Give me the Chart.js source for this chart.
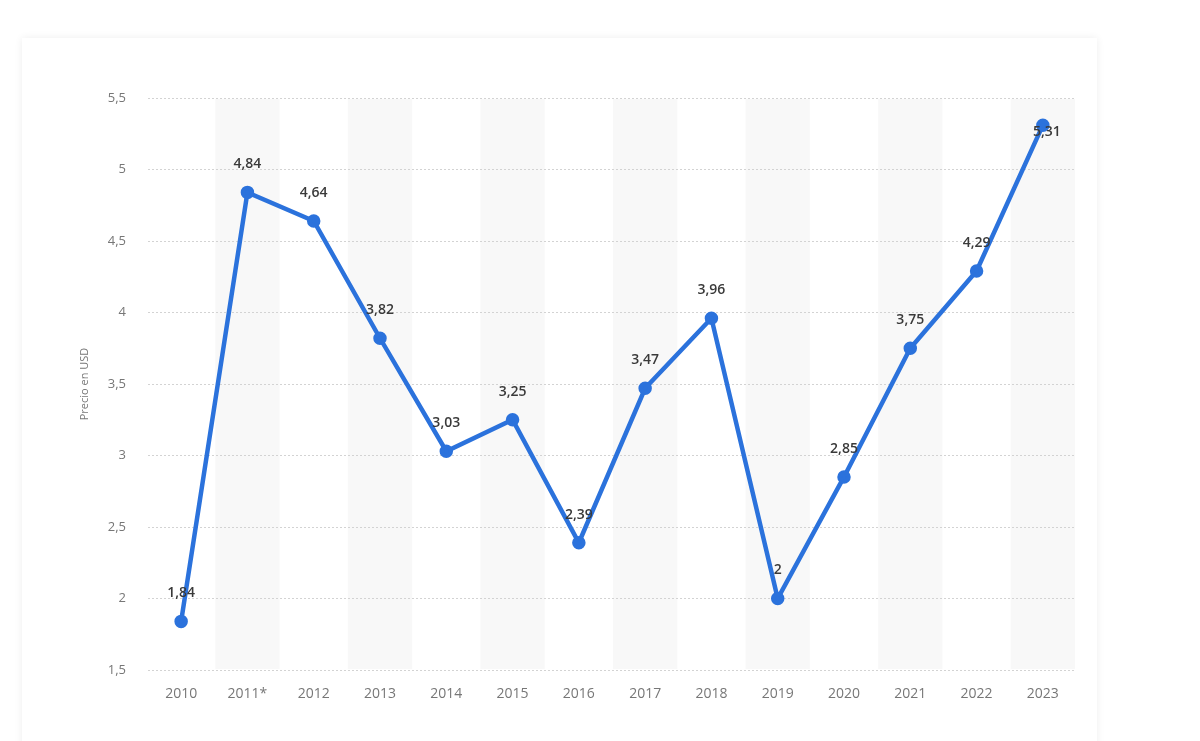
<!DOCTYPE html>
<html>
<head>
<meta charset="utf-8">
<script src="https://cdn.jsdelivr.net/npm/chart.js@4"></script>
<style>
  html, body { margin: 0; padding: 0; background: #fff; }
  body { width: 1200px; height: 741px; position: relative; overflow: hidden; }
  .card {
    position: absolute; left: 22px; top: 38px; width: 1075px; height: 720px;
    background: #fff; box-shadow: 0 0 8px rgba(0,0,0,0.07);
  }
  #wrap { position: absolute; left: 0; top: 0; width: 1200px; height: 741px; }
</style>
</head>
<body>
<div class="card"></div>
<div id="wrap"><canvas id="precioChart"></canvas></div>
<script>
// categorías y valores (precio en USD)
const years = ['2010', '2011*', '2012', '2013', '2014', '2015', '2016', '2017', '2018', '2019', '2020', '2021', '2022', '2023'];
const prices = [1.84, 4.84, 4.64, 3.82, 3.03, 3.25, 2.39, 3.47, 3.96, 2, 2.85, 3.75, 4.29, 5.31];
const yTicks = [1.5, 2, 2.5, 3, 3.5, 4, 4.5, 5, 5.5];

const comma = v => String(v).replace('.', ',');

// franjas grises alternas, debajo de la rejilla
const bandPlugin = {
    id: 'bands',
    beforeDraw(chart) {
        const { ctx, chartArea, scales } = chart;
        const x = scales.x;
        const w = x.width / years.length;
        ctx.save();
        ctx.fillStyle = '#f8f8f8';
        years.forEach((y, i) => {
            if (i % 2 === 1) {
                const cx = x.getPixelForValue(i);
                ctx.fillRect(cx - w / 2 + 1, chartArea.top + 1, w - 2, chartArea.bottom - chartArea.top - 2);
            }
        });
        ctx.restore();
    }
};

// etiquetas de valor encima de cada punto
const labelPlugin = {
    id: 'valueLabels',
    afterDatasetsDraw(chart) {
        const { ctx, chartArea } = chart;
        const meta = chart.getDatasetMeta(0);
        ctx.save();
        ctx.font = '600 14px "Open Sans"';
        ctx.fillStyle = '#3a3a3a';
        ctx.textAlign = 'center';
        ctx.textBaseline = 'middle';
        meta.data.forEach((pt, i) => {
            let ly = pt.y - 28;
            let lx = pt.x;
            if (ly < chartArea.top + 10) { ly = pt.y + 7; lx = pt.x + 4; }
            ctx.fillText(comma(prices[i]), lx, ly);
        });
        ctx.restore();
    }
};

const ctx = document.getElementById('precioChart').getContext('2d');
new Chart(ctx, {
    type: 'line',
    data: {
        labels: years,
        datasets: [{
            data: prices,
            borderColor: '#2b72dc',
            backgroundColor: '#2b72dc',
            borderWidth: 4.5,
            pointRadius: 4.5,
            pointHoverRadius: 4.5,
            tension: 0
        }]
    },
    options: {
        responsive: true,
        maintainAspectRatio: false,
        animation: false,
        layout: { padding: { left: 78, right: 124, top: 98, bottom: 38 } },
        plugins: {
            legend: { display: false },
            tooltip: { enabled: false }
        },
        scales: {
            x: {
                offset: true,
                grid: { display: false },
                border: { display: false },
                ticks: { color: '#777', font: { family: 'Open Sans', size: 14 }, padding: 8, maxRotation: 0 },
                afterFit: s => { s.height = 33; }
            },
            y: {
                min: 1.5,
                max: 5.5,
                afterBuildTicks: s => { s.ticks = yTicks.map(v => ({ value: v })); },
                grid: { color: '#d3d3d3', lineWidth: 1, drawTicks: false },
                border: { display: false, dash: [2, 2] },
                ticks: { color: '#777', font: { family: 'Open Sans', size: 13 }, padding: 22, callback: v => comma(v) },
                title: { display: true, text: 'Precio en USD', color: '#777', font: { family: 'Open Sans', size: 11 }, padding: 0 },
                afterFit: s => { s.width = 70; }
            }
        }
    },
    plugins: [bandPlugin, labelPlugin]
});
</script>
</body>
</html>
